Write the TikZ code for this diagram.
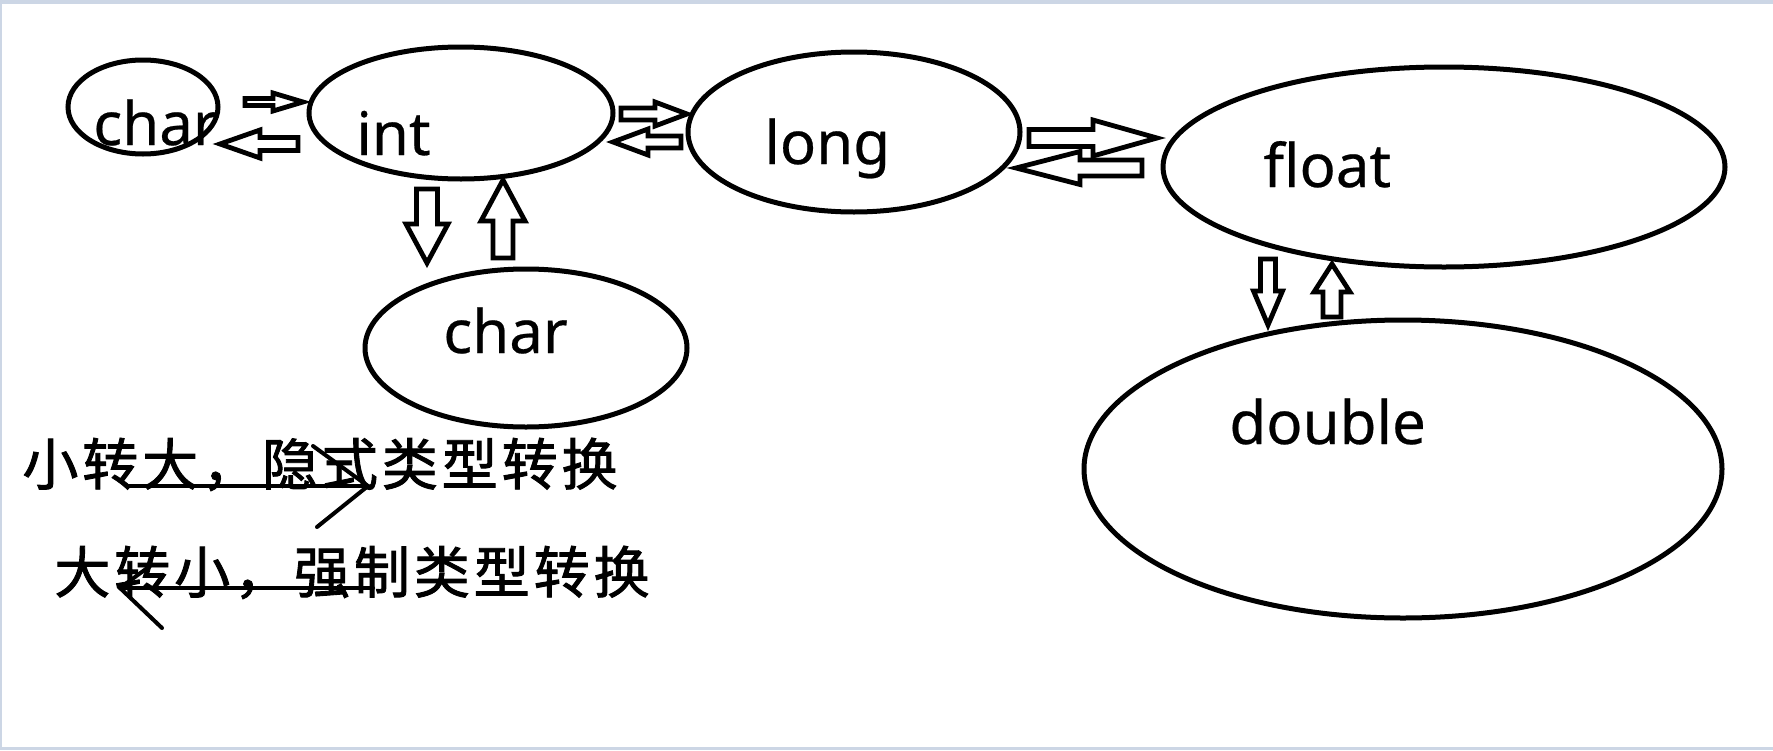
\documentclass[tikz,border=0pt]{standalone}
\usepackage{fontspec}
\setmainfont[FakeBold=0.4]{Noto Sans}
\newfontfamily\cjk[LetterSpace=7,FakeBold=1.6]{Noto Sans CJK SC}
\usepackage{tikz}
\usetikzlibrary{shapes,arrows.meta}
\definecolor{framegray}{rgb}{0.80,0.84,0.90}
\tikzset{oval/.style={draw,ellipse,line width=2.5pt,inner sep=0pt},
  blockarr/.style={draw,line width=2.4pt,fill=white,line join=miter},
  handarr/.style={line width=2pt,line cap=round}}
% tail, angle, length, shaft width, head width, head length
\newcommand{\blockarrow}[6]{%
  \draw[blockarr,shift={#1},rotate=#2]
    (0,#4/2) -- (#3-#6,#4/2) -- (#3-#6,#5/2) -- (#3,0)
    -- (#3-#6,-#5/2) -- (#3-#6,-#4/2) -- (0,-#4/2) -- cycle;}

\begin{document}
\begin{tikzpicture}[x=0.5pt,y=-0.5pt,font=\fontsize{30}{36}\selectfont]
            \fill[framegray] (0,0) rectangle (1773,750);
            \fill[white] (2,4) rectangle (1773,747);
            \useasboundingbox (0,0) rectangle (1773,750);
            % types
            \node[oval,minimum width=75pt,minimum height=47pt] (1) at (143,107) {};
            \node[oval,minimum width=152pt,minimum height=66pt] (2) at (461,113) {};
            \node[oval,minimum width=166pt,minimum height=80pt] (3) at (854,132) {};
            \node[oval,minimum width=281pt,minimum height=100pt] (4) at (1444,167) {};
            \node[oval,minimum width=161pt,minimum height=79pt] (5) at (526,348) {};
            \node[oval,minimum width=319pt,minimum height=149pt] (6) at (1403,469) {};
            \node[anchor=base west,inner sep=0pt] (7) at (93,145) {char};
            \node[anchor=base west,inner sep=0pt] (8) at (356,155) {int};
            \node[anchor=base west,inner sep=0pt] (9) at (764,164) {long};
            \node[anchor=base west,inner sep=0pt] (10) at (1263,187) {float};
            \node[anchor=base west,inner sep=0pt] (11) at (443,353) {char};
            \node[anchor=base west,inner sep=0pt] (12) at (1229,444) {double};
            % conversions
            \blockarrow{(245,102)}{0}{58}{7}{18}{30}
            \blockarrow{(298,144)}{180}{78}{13}{28}{40}
            \blockarrow{(621,114)}{0}{66}{12}{24}{32}
            \blockarrow{(681,142)}{180}{68}{12}{26}{35}
            \blockarrow{(1029,138)}{0}{128}{17}{36}{64}
            \blockarrow{(1142,168)}{180}{126}{16}{33}{64}
            \blockarrow{(427,189)}{-90}{74}{21}{42}{39}
            \blockarrow{(503,258)}{90}{78}{20}{44}{41}
            \blockarrow{(1268,259)}{-90}{66}{15}{29}{34}
            \blockarrow{(1332,317)}{90}{53}{18}{36}{28}
            % legend
            \node[anchor=base west,inner sep=0pt,font=\cjk\fontsize{28}{34}\selectfont] (13) at (22,485) {小转大，隐式类型转换};
            \node[anchor=base west,inner sep=0pt,font=\cjk\fontsize{28}{34}\selectfont] (14) at (54,593) {大转小，强制类型转换};
            \coordinate (15) at (129,486);
            \coordinate (16) at (368,486);
            \coordinate (17) at (313,446);
            \coordinate (18) at (317,527);
            \coordinate (19) at (373,588);
            \coordinate (20) at (120,588);
            \coordinate (21) at (150,566);
            \coordinate (22) at (162,628);
            \draw[handarr] (15) -- (16);
            \draw[handarr] (17) -- (16) -- (18);
            \draw[handarr] (19) -- (20);
            \draw[handarr] (21) -- (20) -- (22);
        \end{tikzpicture}
\end{document}
